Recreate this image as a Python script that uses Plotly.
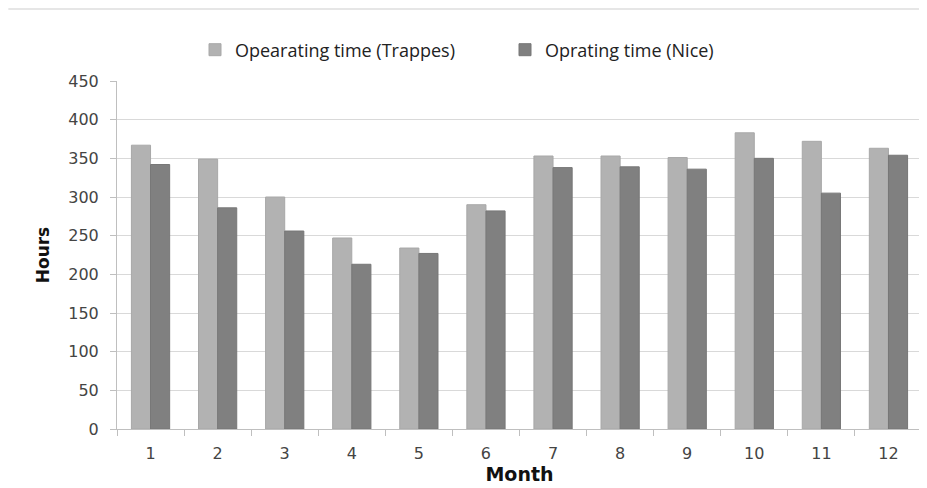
import plotly.graph_objects as go

months = ["1", "2", "3", "4", "5", "6", "7", "8", "9", "10", "11", "12"]
trappes = [367, 349, 300, 247, 234, 290, 353, 353, 351, 383, 372, 363]
nice = [342, 286, 256, 213, 227, 282, 338, 339, 336, 350, 305, 354]
y_ticks = [0, 50, 100, 150, 200, 250, 300, 350, 400, 450]

fig = go.Figure()
fig.add_trace(go.Bar(x=months, y=trappes, name="Opearating time (Trappes)",
                     marker=dict(color="#b2b2b2", line=dict(color="#a8a8a8", width=1))))
fig.add_trace(go.Bar(x=months, y=nice, name="Oprating time (Nice)",
                     marker=dict(color="#808080", line=dict(color="#777777", width=1))))

W, H = 919, 480
fig.update_layout(
    width=W, height=H,
    margin=dict(l=109, r=5, t=73, b=59, autoexpand=False),
    paper_bgcolor="white", plot_bgcolor="white",
    barmode="group", bargap=0.43, bargroupgap=0,
    showlegend=True,
    legend=dict(orientation="h", xref="container", yref="container",
                x=187 / W, y=1 - 42 / H, xanchor="left", yanchor="middle",
                font=dict(family="Open Sans, sans-serif", size=18, color="#222"),
                itemwidth=30, entrywidth=265, traceorder="normal"),
    font=dict(family="DejaVu Sans, Verdana, sans-serif", color="#444"),
    shapes=[dict(type="line", xref="paper", yref="paper", x0=-0.135, x1=1.01, y0=1.207, y1=1.207,
                 line=dict(color="#e6e6e6", width=2))],
)
fig.update_xaxes(
    type="category", showline=True, linecolor="#bfbfbf", linewidth=1,
    ticks="outside", tickson="boundaries", ticklen=6, tickcolor="#bfbfbf",
    tickfont=dict(size=16, color="#444"), ticklabelstandoff=10,
    title=dict(text="<b>Month</b>", font=dict(family="DejaVu Sans, Verdana, sans-serif", size=19, color="#111"), standoff=4),
    showgrid=False, automargin=False,
)
fig.update_yaxes(
    range=[0, 450], tickvals=y_ticks, showline=True, linecolor="#bfbfbf", linewidth=1,
    ticks="outside", ticklen=6, tickcolor="#bfbfbf",
    showgrid=True, gridcolor="#d9d9d9", gridwidth=1,
    tickfont=dict(size=16, color="#444"), ticklabelstandoff=8,
    title=dict(text="<b>Hours</b>", font=dict(family="DejaVu Sans, Verdana, sans-serif", size=17, color="#111"), standoff=14),
    zeroline=False, automargin=False,
)

fig.write_html("out.html")
